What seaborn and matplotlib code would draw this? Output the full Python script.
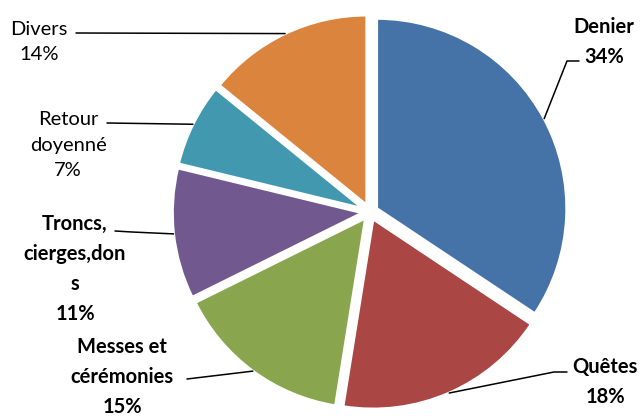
import numpy as np
import matplotlib
matplotlib.use('Agg')
import matplotlib.pyplot as plt
import seaborn as sns


# data
categories  = ['Denier', 'Quêtes', 'Messes et\ncérémonies', 'Troncs,\ncierges,don\ns',
               'Retour\ndoyenné', 'Divers']
values      = [34, 18, 15, 11, 7, 14]
pct_labels  = ['34%', '18%', '15%', '11%', '7%', '14%']
colors      = ['#4572A7', '#AA4643', '#89A54E', '#71588F', '#4198AF', '#DB843D']
bold        = [True, True, True, True, False, False]

# label layout (pixel positions in the 643x416 picture, as placed by hand in the original)
label_px    = [(604, 42), (605, 382), (122, 377), (75, 269), (68, 145), (39, 42)]
leader_px   = [[(567, 61), (579, 61)],
               [(554, 372), (567, 372)],
               [(187, 379)],
               [(132, 232), (115, 231)],
               [(107, 123)],
               [(76, 33)]]

CX, CY, R = 370, 212, 190
EXPLODE = 0.04


def px(p):
    return ((p[0] - CX) / R, (CY - p[1]) / R)


sns.set_style('white')
plt.rcParams['font.family'] = ['Lato', 'DejaVu Sans']

fig = plt.figure(figsize=(6.43, 4.16), dpi=100)
ax = fig.add_axes([0, 0, 1, 1])

wedges, _ = ax.pie(values, colors=colors, startangle=90, counterclock=False,
                   explode=[EXPLODE] * len(values), radius=1,
                   wedgeprops=dict(edgecolor='white', linewidth=2))

ax.set_xlim(-CX / R, (643 - CX) / R)
ax.set_ylim(-(416 - CY) / R, CY / R)
ax.axis('off')

for w, cat, pct, b, lp, pts in zip(wedges, categories, pct_labels, bold, label_px, leader_px):
    mid = np.deg2rad((w.theta1 + w.theta2) / 2)
    start = ((1 + EXPLODE) * np.cos(mid), (1 + EXPLODE) * np.sin(mid))
    line = [start] + [px(p) for p in pts]
    ax.plot([p[0] for p in line], [p[1] for p in line], color='black', lw=1.1)
    x, y = px(lp)
    ax.text(x, y, cat + '\n' + pct, ha='center', va='center', fontsize=14.5,
            fontweight='bold' if b else 'normal', linespacing=1.62, color='black')

fig.savefig('out.png', dpi=100)
